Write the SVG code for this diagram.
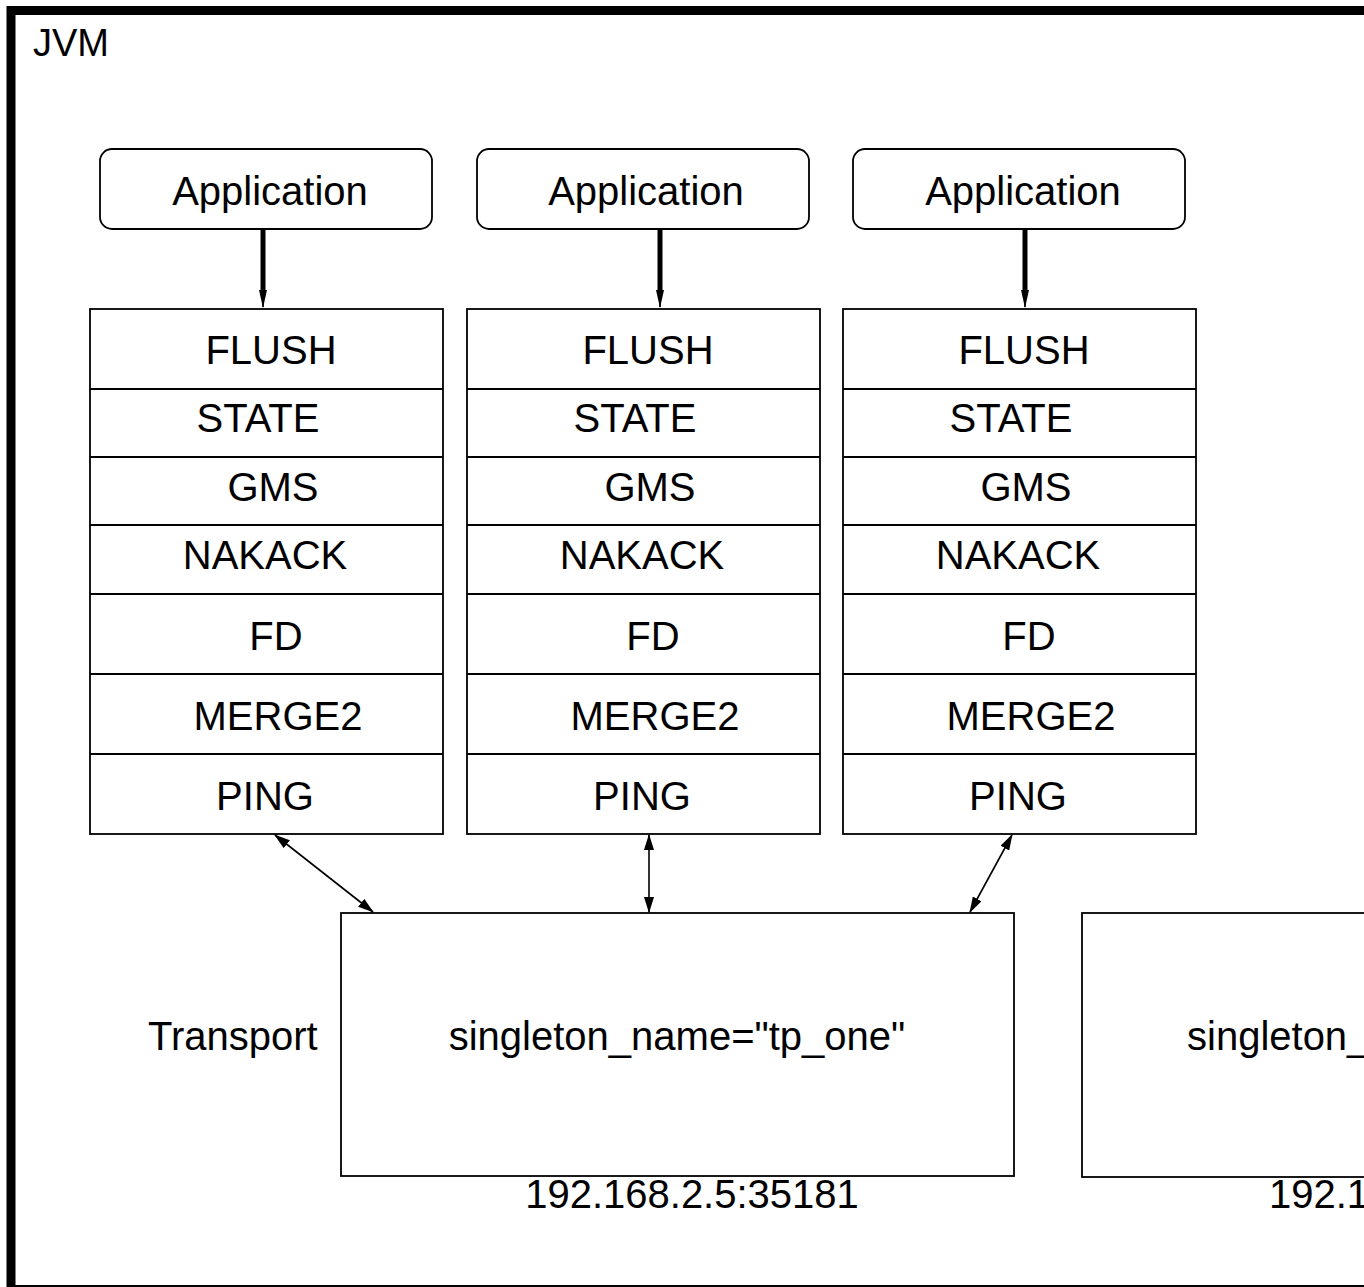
<svg xmlns="http://www.w3.org/2000/svg" width="1364" height="1287" viewBox="0 0 1364 1287">
<style>
text{font-family:"Liberation Sans",Arial,sans-serif;font-size:40px;fill:#000}
.c{text-anchor:middle}
.box{fill:#fff;stroke:#000;stroke-width:1.8}
.sep{stroke:#000;stroke-width:1.8}
.thin{stroke:#000;stroke-width:1.6;fill:none}
.thick{stroke:#000;stroke-width:5;fill:none}
</style>
<defs>
<marker id="ah" viewBox="0 0 16 10" refX="15" refY="5" markerWidth="16" markerHeight="10" markerUnits="userSpaceOnUse" orient="auto-start-reverse">
<path d="M0,0 L16,5 L0,10 z" fill="#000"/>
</marker>
<marker id="ah2" viewBox="0 0 18 8" refX="17" refY="4" markerWidth="18" markerHeight="8" markerUnits="userSpaceOnUse" orient="auto">
<path d="M0,0 L18,4 L0,8 z" fill="#000"/>
</marker>
</defs>
<rect width="1364" height="1287" fill="#fff"/>
<g id="jvm">
<rect x="11" y="10.5" width="1400" height="1279" fill="none" stroke="#000" stroke-width="9"/>
<text x="33" y="56" style="font-size:38px">JVM</text>
</g>

<g id="app1"><rect class="box" x="100" y="149" width="332" height="80" rx="12"/><text class="c" x="270" y="205">Application</text></g>
<g id="app2"><rect class="box" x="477" y="149" width="332" height="80" rx="12"/><text class="c" x="646" y="205">Application</text></g>
<g id="app3"><rect class="box" x="853" y="149" width="332" height="80" rx="12"/><text class="c" x="1023" y="205">Application</text></g>

<g id="stack1">
<rect class="box" x="90" y="309" width="353" height="525"/>
<path class="sep" d="M90,389H443M90,457H443M90,525H443M90,594H443M90,674H443M90,754H443"/>
<text class="c" x="271" y="364">FLUSH</text>
<text class="c" x="258" y="432">STATE</text>
<text class="c" x="273" y="501">GMS</text>
<text class="c" x="265" y="569">NAKACK</text>
<text class="c" x="276" y="650">FD</text>
<text class="c" x="278" y="730">MERGE2</text>
<text class="c" x="265" y="810">PING</text>
</g>
<g id="stack2">
<rect class="box" x="467" y="309" width="353" height="525"/>
<path class="sep" d="M467,389H820M467,457H820M467,525H820M467,594H820M467,674H820M467,754H820"/>
<text class="c" x="648" y="364">FLUSH</text>
<text class="c" x="635" y="432">STATE</text>
<text class="c" x="650" y="501">GMS</text>
<text class="c" x="642" y="569">NAKACK</text>
<text class="c" x="653" y="650">FD</text>
<text class="c" x="655" y="730">MERGE2</text>
<text class="c" x="642" y="810">PING</text>
</g>
<g id="stack3">
<rect class="box" x="843" y="309" width="353" height="525"/>
<path class="sep" d="M843,389H1196M843,457H1196M843,525H1196M843,594H1196M843,674H1196M843,754H1196"/>
<text class="c" x="1024" y="364">FLUSH</text>
<text class="c" x="1011" y="432">STATE</text>
<text class="c" x="1026" y="501">GMS</text>
<text class="c" x="1018" y="569">NAKACK</text>
<text class="c" x="1029" y="650">FD</text>
<text class="c" x="1031" y="730">MERGE2</text>
<text class="c" x="1018" y="810">PING</text>
</g>

<g id="transport1">
<text x="148" y="1050">Transport</text>
<rect class="box" x="341" y="913" width="673" height="263"/>
<text class="c" x="677" y="1050">singleton_name="tp_one"</text>
<text class="c" x="692" y="1208">192.168.2.5:35181</text>
</g>
<g id="transport2">
<rect class="box" x="1082" y="913" width="673" height="264"/>
<text x="1187" y="1050">singleton_</text>
<text x="1269" y="1208">192.1</text>
</g>

<g id="connectors">
<path class="thick" d="M263,229V292"/>
<path class="thin" d="M263,290V307" marker-end="url(#ah2)"/>
<path class="thick" d="M660,229V292"/>
<path class="thin" d="M660,290V307" marker-end="url(#ah2)"/>
<path class="thick" d="M1025,229V292"/>
<path class="thin" d="M1025,290V307" marker-end="url(#ah2)"/>
<path class="thin" d="M275,835L373,912" marker-start="url(#ah)" marker-end="url(#ah)"/>
<path class="thin" d="M649,835V912" marker-start="url(#ah)" marker-end="url(#ah)"/>
<path class="thin" d="M1012,835L970,912" marker-start="url(#ah)" marker-end="url(#ah)"/>
</g>
</svg>
